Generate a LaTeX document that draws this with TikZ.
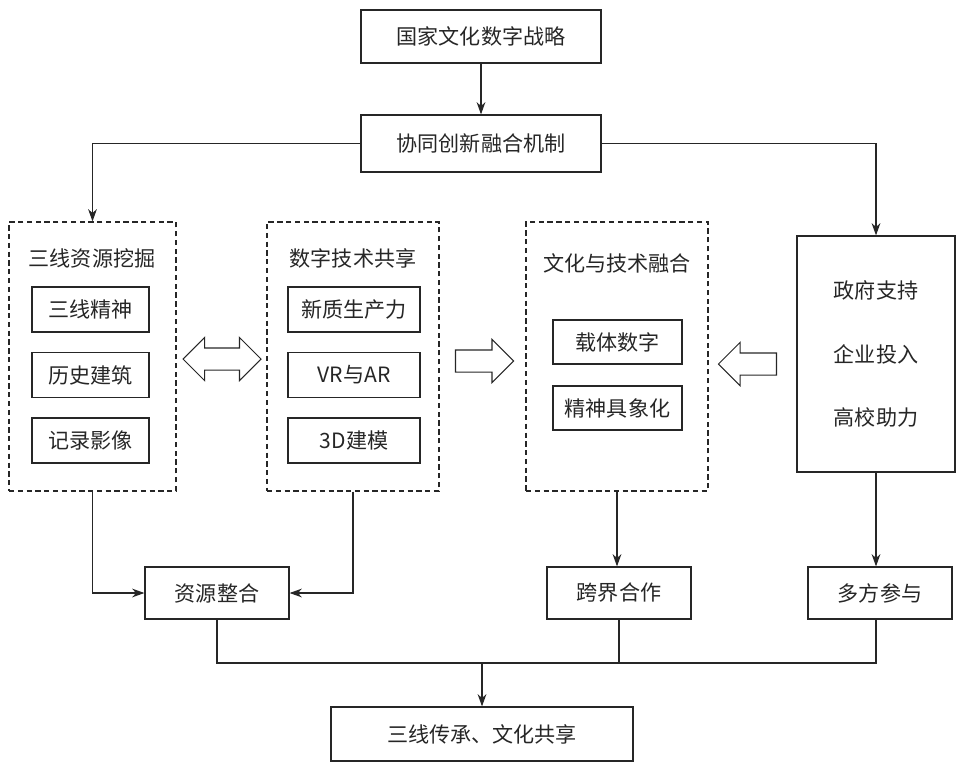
\documentclass[tikz,border=0pt]{standalone}
\usepackage{fontspec}
\setmainfont{Noto Sans CJK SC}
\usepackage{tikz}
\usetikzlibrary{arrows.meta,calc,positioning,shapes.arrows}
\tikzset{
  box/.style={
    draw=black!85,
    line width=0.7pt,
    inner sep=0pt,
    text=black!85,
    font=\fontsize{12}{14}\selectfont
  },
  group/.style={
    box,
    dash pattern=on 3pt off 2pt
  },
  gtitle/.style={
    text=black!85,
    font=\fontsize{12}{14}\selectfont
  },
  item/.style={
    box,
    minimum height=0.9cm
  },
  flow/.style={
    draw=black!85,
    line width=0.6pt,
    -{Stealth[length=7pt,width=5pt]}
  },
  link/.style={
    draw=black!85,
    line width=0.6pt
  },
  blockarrow/.style={
    draw=black!85,
    line width=0.6pt,
    inner xsep=0pt,
    inner ysep=0.21cm,
    minimum height=1.16cm,
    single arrow head extend=0.21cm
  }
}
\def\rowA{-6.19}
\def\rowB{-7.50}
\def\rowC{-8.81}

\begin{document}
\begin{tikzpicture}
  \useasboundingbox (0,0) rectangle (19.52,-15.3);

  % top
  \node[box, minimum width=4.8cm, minimum height=1.06cm] (strat) at (9.62,-0.73) {国家文化数字战略};
  \node[box, minimum width=4.8cm, minimum height=1.14cm] (mech) at (9.62,-2.87) {协同创新融合机制};

  % dashed groups
  \node[group, minimum width=3.34cm, minimum height=5.38cm] (mine) at (1.85,-7.13) {};
  \node[gtitle] (mineT) at (1.84,-5.16) {三线资源挖掘};
  \node[item, minimum width=2.34cm] (spirit) at (1.81,\rowA) {三线精神};
  \node[item, minimum width=2.34cm] (arch) at (1.81,\rowB) {历史建筑};
  \node[item, minimum width=2.34cm] (image) at (1.81,\rowC) {记录影像};

  \node[group, minimum width=3.44cm, minimum height=5.38cm] (tech) at (7.06,-7.13) {};
  \node[gtitle] (techT) at (7.06,-5.16) {数字技术共享};
  \node[item, minimum width=2.64cm] (prod) at (7.08,\rowA) {新质生产力};
  \node[item, minimum width=2.64cm] (vrar) at (7.08,\rowB) {VR与AR};
  \node[item, minimum width=2.64cm] (model) at (7.08,\rowC) {3D建模};

  \node[group, minimum width=3.64cm, minimum height=5.38cm] (fuse) at (12.34,-7.13) {};
  \node[gtitle] (fuseT) at (12.34,-5.26) {文化与技术融合};
  \node[item, minimum width=2.58cm, minimum height=0.88cm] (carrier) at (12.35,-6.84) {载体数字};
  \node[item, minimum width=2.58cm, minimum height=0.88cm] (concrete) at (12.35,-8.16) {精神具象化};

  \node[box, minimum width=3.16cm, minimum height=4.72cm, align=center,
        font=\fontsize{12}{36}\selectfont] (support) at (17.52,-7.08)
        {政府支持\\企业投入\\高校助力};

  % block arrows
  \node[blockarrow, double arrow, minimum height=1.56cm, double arrow head extend=0.21cm] (both) at (4.44,-7.18) {};
  \node[blockarrow, single arrow] (toFuse) at (9.58,-7.22) {};
  \node[blockarrow, single arrow, shape border rotate=180] (fromSup) at (15.06,-7.28) {};

  % second row
  \node[box, minimum width=2.88cm, minimum height=1.04cm] (merge) at (4.34,-11.86) {资源整合};
  \node[box, minimum width=2.88cm, minimum height=1.04cm] (cross) at (12.38,-11.86) {跨界合作};
  \node[box, minimum width=2.88cm, minimum height=1.04cm] (multi) at (17.6,-11.86) {多方参与};

  \node[box, minimum width=6.04cm, minimum height=1.08cm] (final) at (9.64,-14.68) {三线传承、文化共享};
  \coordinate (join) at (9.64,-13.26);

  % connectors
  \draw[flow] (strat) -- (mech);
  \draw[flow] (mech.west) -| (mine.north);
  \draw[flow] (mech.east) -| (support.north);
  \draw[flow] (mine.south) |- (merge.west);
  \draw[flow] (tech.south) |- (merge.east);
  \draw[flow] (fuse.south) -- (fuse.south |- cross.north);
  \draw[flow] (support.south) -- (support.south |- multi.north);
  \draw[link] (merge.south) |- (join) -| (support.south |- multi.south);
  \draw[link] (cross.south) -- (cross.south |- join);
  \draw[flow] (join) -- (join |- final.north);
\end{tikzpicture}
\end{document}
